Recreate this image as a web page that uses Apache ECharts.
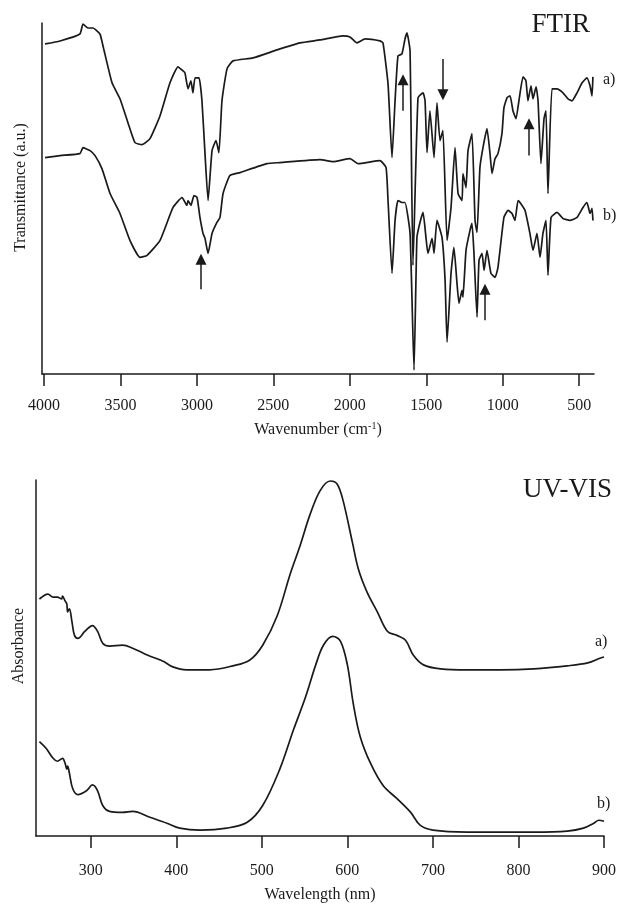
<!DOCTYPE html>
<html><head><meta charset="utf-8">
<script src="https://cdn.jsdelivr.net/npm/echarts@6/dist/echarts.min.js"></script>
<style>html,body{margin:0;padding:0;background:#fff}#c{width:619px;height:904px}</style>
</head><body><div id="c"></div><script>
// ---- tick labels ----
const ftirTicks = [4000, 3500, 3000, 2500, 2000, 1500, 1000, 500];
const uvTicks = [300, 400, 500, 600, 700, 800, 900];
// ---- FTIR: [wavenumber (cm-1), transmittance (a.u.)] ----
const ftirA = [[3993,331],[3895,334],[3765,341],[3745,351],[3712,347],[3680,347],[3634,341],[3614,329],[3555,292],[3503,276],[3451,252],[3405,232],[3359,230],[3307,236],[3241,259],[3176,292],[3124,308],[3091,304],[3078,302],[3058,286],[3039,294],[3026,282],[3012,297],[2986,297],[2967,274],[2947,221],[2927,174],[2901,224],[2875,234],[2856,222],[2836,274],[2803,306],[2764,314],[2633,317],[2476,325],[2326,332],[2195,335],[2045,339],[1999,338],[1953,332],[1900,336],[1803,334],[1783,332],[1750,291],[1724,217],[1704,274],[1685,319],[1659,321],[1639,336],[1626,342],[1606,324],[1587,109],[1554,277],[1521,282],[1508,274],[1495,222],[1476,264],[1449,217],[1430,272],[1410,234],[1391,244],[1364,134],[1338,167],[1312,227],[1292,181],[1266,174],[1260,201],[1240,187],[1227,224],[1201,241],[1181,154],[1168,142],[1149,207],[1129,227],[1103,246],[1083,221],[1070,201],[1050,216],[1031,221],[1005,241],[992,267],[972,277],[952,279],[933,264],[913,256],[894,274],[867,298],[848,294],[835,274],[815,289],[802,276],[782,288],[769,274],[750,211],[730,256],[717,264],[704,181],[678,286],[645,286],[606,282],[573,276],[547,274],[514,282],[481,292],[449,297],[429,289],[416,279],[410,298]];
const ftirB = [[3993,217],[3895,219],[3765,221],[3745,227],[3699,224],[3666,219],[3621,206],[3568,181],[3503,161],[3438,134],[3372,117],[3326,119],[3241,134],[3156,167],[3097,177],[3065,169],[3058,174],[3039,169],[3019,179],[2999,177],[2980,157],[2960,141],[2947,136],[2927,121],[2901,141],[2869,152],[2849,157],[2829,181],[2784,199],[2718,202],[2542,211],[2457,212],[2195,215],[2110,213],[1999,216],[1946,211],[1803,214],[1763,207],[1750,174],[1724,101],[1704,154],[1685,174],[1659,172],[1639,172],[1606,141],[1580,4],[1561,137],[1541,152],[1521,162],[1502,137],[1489,121],[1462,136],[1449,121],[1430,154],[1397,137],[1377,94],[1364,32],[1338,101],[1319,127],[1299,91],[1286,71],[1266,84],[1260,77],[1240,124],[1214,144],[1201,151],[1188,121],[1168,57],[1155,114],[1135,121],[1122,104],[1103,124],[1077,101],[1050,97],[1031,107],[992,157],[965,164],[939,161],[920,154],[900,174],[887,172],[854,164],[822,141],[802,124],[776,141],[756,117],[737,141],[717,154],[704,99],[684,157],[645,162],[606,156],[560,154],[514,157],[475,167],[449,172],[429,161],[416,166],[410,154]];
// ---- FTIR arrows: [wavenumber, tail, head] ----
const ftirArrows = [[2973,85,115],[1652,264,295],[1391,316,280],[1116,54,85],[828,219,251]];
// ---- UV-VIS: [wavelength (nm), absorbance (a.u.)] ----
const uvA = [[240,241],[250,246],[256,243],[261,243],[266,241],[267,244],[270,239],[272,236],[273,228],[275,231],[278,218],[281,204],[285,201],[293,208],[302,214],[308,208],[314,196],[322,193],[337,194],[349,191],[366,184],[384,178],[396,172],[412,169],[439,169],[466,173],[486,179],[501,194],[518,224],[533,266],[545,296],[556,326],[568,351],[580,361],[588,358],[595,341],[606,298],[613,271],[623,248],[635,228],[647,208],[658,204],[668,199],[677,184],[689,174],[709,170],[740,169],[779,169],[818,170],[857,173],[881,176],[896,181],[900,182]];
const uvB = [[240,96],[248,89],[256,79],[261,76],[267,79],[270,74],[272,68],[273,71],[275,64],[279,48],[285,42],[295,46],[302,52],[308,46],[314,31],[322,25],[337,24],[349,25],[369,19],[389,13],[404,8],[428,6],[459,8],[483,14],[501,31],[521,68],[537,108],[551,141],[563,174],[572,194],[583,203],[592,198],[600,174],[607,134],[615,101],[627,74],[642,51],[658,38],[674,24],[685,11],[700,6],[740,4],[779,4],[818,4],[857,5],[876,8],[888,13],[894,16],[900,15]];

const FONT = "'Liberation Serif', 'Times New Roman', serif";
const INK = '#1a1a1a';

function xAxisCfg(grid, min, max, inverse, ticks, name, nameGap, margin) {
  return {
    type: 'value', gridIndex: grid, min: min, max: max, inverse: inverse,
    axisLine: { show: true, onZero: false, lineStyle: { color: INK, width: 1.5 } },
    axisTick: { show: true, length: 12, customValues: ticks, lineStyle: { color: INK, width: 1.5 } },
    axisLabel: { show: true, customValues: ticks, margin: margin, fontSize: 16, fontFamily: FONT, color: INK,
      formatter: v => String(v) },
    splitLine: { show: false },
    name: name, nameLocation: 'middle', nameGap: nameGap,
    nameTextStyle: { fontSize: 16, fontFamily: FONT, color: INK,
      rich: { sup: { fontSize: 10, fontFamily: FONT, color: INK, verticalAlign: 'top', padding: [0,0,8,0] } } }
  };
}
function yAxisCfg(grid, max, name, nameGap, shift) {
  return {
    type: 'value', gridIndex: grid, min: 0, max: max,
    axisLine: { show: true, lineStyle: { color: INK, width: 1.5 } },
    axisTick: { show: false }, axisLabel: { show: false }, splitLine: { show: false },
    name: name, nameLocation: 'middle', nameGap: nameGap, nameRotate: 90,
    nameTextStyle: { fontSize: 16, fontFamily: FONT, color: INK, padding: [0, 0, 0, shift] }
  };
}
function lineSeries(x, y, data, extra) {
  return Object.assign({
    type: 'line', xAxisIndex: x, yAxisIndex: y, data: data,
    showSymbol: false, symbol: 'none', smooth: false, silent: true,
    lineStyle: { color: INK, width: 1.7 }
  }, extra || {});
}

const chart = echarts.init(document.getElementById('c'), null, { renderer: 'canvas' });
chart.setOption({
  animation: false,
  backgroundColor: '#fff',
  grid: [
    { left: 42, right: 25, top: 23, height: 351 },
    { left: 36, right: 15, top: 480, height: 361 }
  ],
  xAxis: [
    xAxisCfg(0, 403, 4013, true, ftirTicks, 'Wavenumber (cm{sup|-1})', 47, 24),
    xAxisCfg(1, 236, 900, false, uvTicks, 'Wavelength (nm)', 51, 27)
  ],
  yAxis: [
    yAxisCfg(0, 352, 'Transmittance (a.u.)', 13, 22),
    yAxisCfg(1, 362, 'Absorbance', 9, 24)
  ],
  series: [
    lineSeries(0, 0, ftirA, {
      smooth: 0.15,
      markLine: {
        silent: true, animation: false, symbol: ['none', 'triangle'], symbolSize: 11,
        label: { show: false },
        lineStyle: { color: INK, width: 1.5, type: 'solid' },
        data: ftirArrows.map(a => [{ coord: [a[0], a[1]] }, { coord: [a[0], a[2]] }])
      }
    }),
    lineSeries(0, 0, ftirB, { smooth: 0.15 }),
    lineSeries(1, 1, uvA, { smooth: 0.35 }),
    lineSeries(1, 1, uvB, { smooth: 0.35 })
  ],
  graphic: [
    { type: 'text', right: 29, top: 11, style: { text: 'FTIR', font: '27px ' + FONT, fill: INK } },
    { type: 'text', right: 7, top: 476, style: { text: 'UV-VIS', font: '27px ' + FONT, fill: INK } },
    { type: 'text', left: 603, top: 72, style: { text: 'a)', font: '16px ' + FONT, fill: INK } },
    { type: 'text', left: 603, top: 208, style: { text: 'b)', font: '16px ' + FONT, fill: INK } },
    { type: 'text', left: 595, top: 634, style: { text: 'a)', font: '16px ' + FONT, fill: INK } },
    { type: 'text', left: 597, top: 796, style: { text: 'b)', font: '16px ' + FONT, fill: INK } }
  ]
});
</script></body></html>
